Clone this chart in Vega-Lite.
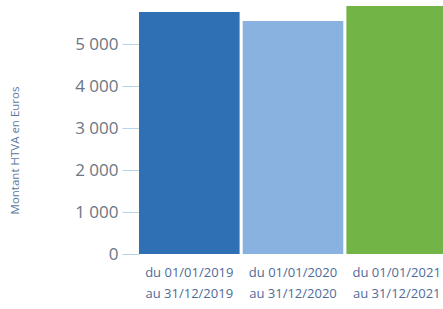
{
  "$schema": "https://vega.github.io/schema/vega-lite/v6.json",
  "width": 308,
  "height": 252,
  "autosize": {"type": "none"},
  "padding": {"left": 139, "top": 2, "right": 0, "bottom": 55},
  "background": "white",
  "data": {
    "values": [
      {"periode": "du 01/01/2019|au 31/12/2019", "montant": 5760, "c": "a"},
      {"periode": "du 01/01/2020|au 31/12/2020", "montant": 5545, "c": "b"},
      {"periode": "du 01/01/2021|au 31/12/2021", "montant": 5905, "c": "c"}
    ]
  },
  "mark": {"type": "bar"},
  "encoding": {
    "x": {
      "field": "periode",
      "type": "nominal",
      "sort": null,
      "scale": {"paddingInner": 0.03, "paddingOuter": 0},
      "axis": {
        "title": null,
        "labelAngle": 0,
        "domain": false,
        "ticks": false,
        "labelExpr": "split(datum.value, '|')",
        "labelLineHeight": 21,
        "labelPadding": 12,
        "labelFontSize": 13,
        "labelFont": "Open Sans",
        "labelColor": "#4f6b99",
        "labelBaseline": "top"
      }
    },
    "y": {
      "field": "montant",
      "type": "quantitative",
      "scale": {"domain": [0, 6000], "nice": false},
      "axis": {
        "title": "Montant HTVA en Euros",
        "titleFontSize": 11.5,
        "titleFont": "Open Sans",
        "titleFontWeight": "normal",
        "titleColor": "#5b7aa0",
        "titleX": -124,
        "titleY": 148,
        "titleAngle": -90,
        "titleBaseline": "middle",
        "values": [0, 1000, 2000, 3000, 4000, 5000],
        "labelExpr": "replace(format(datum.value, ','), ',', ' ')",
        "labelFontSize": 17,
        "labelFont": "Open Sans",
        "labelColor": "#6c7682",
        "labelPadding": 4,
        "domain": false,
        "grid": false,
        "tickSize": 17,
        "tickColor": "#b6d4ec",
        "tickWidth": 1
      }
    },
    "color": {
      "field": "c",
      "type": "nominal",
      "scale": {"domain": ["a", "b", "c"], "range": ["#2f6fb4", "#8ab2e0", "#72b445"]},
      "legend": null
    }
  },
  "config": {"view": {"stroke": null}}
}
